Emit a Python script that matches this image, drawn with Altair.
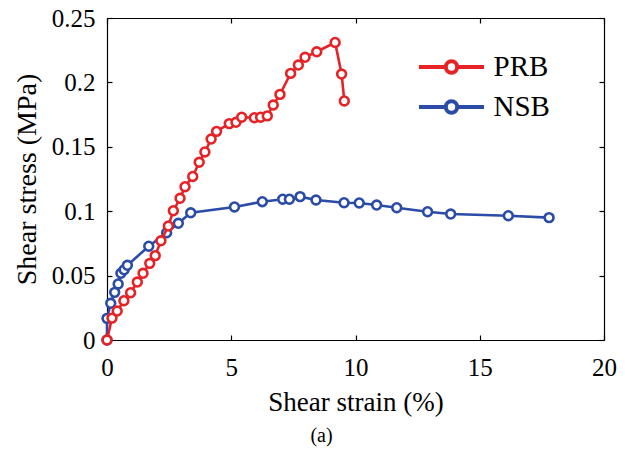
import altair as alt
import pandas as pd

# ---- data ----
prb_strain = [0.0, 0.2, 0.41, 0.68, 0.95, 1.22, 1.45, 1.72, 1.94, 2.17, 2.47, 2.67, 2.94,
              3.14, 3.45, 3.71, 3.94, 4.19, 4.41, 4.92, 5.19, 5.42, 5.93, 6.18, 6.45,
              6.69, 6.96, 7.39, 7.70, 7.97, 8.44, 9.18, 9.44, 9.55]
prb_stress = [0.0, 0.017, 0.0225, 0.0305, 0.0367, 0.045, 0.0518, 0.0595, 0.0655, 0.077,
              0.0885, 0.1004, 0.11, 0.119, 0.127, 0.138, 0.146, 0.156, 0.162, 0.168,
              0.169, 0.173, 0.1726, 0.173, 0.174, 0.1824, 0.1907, 0.207, 0.2135, 0.2195,
              0.2238, 0.231, 0.2065, 0.1856]

nsb_strain = [0.0, 0.0, 0.15, 0.31, 0.45, 0.56, 0.69, 0.82, 1.68, 2.4, 2.87, 3.37, 5.13,
              6.25, 7.07, 7.34, 7.77, 8.41, 9.54, 10.15, 10.85, 11.66, 12.9, 13.83,
              16.15, 17.79]
nsb_stress = [0.0, 0.0168, 0.0285, 0.037, 0.0435, 0.0518, 0.0545, 0.058, 0.0728, 0.0833,
              0.0906, 0.0988, 0.1033, 0.1074, 0.1093, 0.1093, 0.1113, 0.1087, 0.1066,
              0.1064, 0.1048, 0.1027, 0.0996, 0.0978, 0.0965, 0.095]

series_names = ["PRB", "NSB"]
series_colors = ["#e52327", "#2a4ba6"]
x_ticks = [0, 5, 10, 15, 20]
y_ticks = [0, 0.05, 0.1, 0.15, 0.2, 0.25]

W, H = 497, 322
FONT = "'Liberation Serif', 'Times New Roman', Times, serif"

df_prb = pd.DataFrame({"strain": prb_strain, "stress": prb_stress,
                       "series": "PRB", "idx": range(len(prb_strain))})
df_nsb = pd.DataFrame({"strain": nsb_strain, "stress": nsb_stress,
                       "series": "NSB", "idx": range(len(nsb_strain))})

xs = alt.Scale(domain=[0, 20], nice=False, zero=False)
ys = alt.Scale(domain=[0, 0.25], nice=False)

R = 0.38
LEG_PATH = (f"M-2.17,0L-{R},0M{R},0A{R},{R},0,1,1,-{R},0A{R},{R},0,1,1,{R},0"
            f"M{R},0L2.17,0")
legend = alt.Legend(orient="none", legendX=327.5, legendY=32, title=None,
                    symbolType=LEG_PATH, symbolSize=900, symbolStrokeWidth=4,
                    symbolOpacity=1, labelFont=FONT, labelFontSize=29,
                    labelColor="black", labelOffset=25, rowPadding=8, padding=0)
color = alt.Color("series:N", scale=alt.Scale(domain=series_names, range=series_colors),
                  legend=legend)

common = dict(domainColor="black", domainWidth=1.2, tickColor="black", tickWidth=1.2,
              grid=False)

ax_x_main = alt.Axis(orient="bottom", values=x_ticks, ticks=False, tickSize=0,
                     labelFont=FONT, labelFontSize=25, labelColor="black", labelPadding=15,
                     labelFlush=False,
                     title="Shear strain (%)", titleFont=FONT, titleFontSize=27,
                     titleFontWeight="normal", titleColor="black", titlePadding=9, **common)
ax_x_in_bottom = alt.Axis(orient="top", offset=-H, values=x_ticks, labels=False,
                          title=None, tickSize=5, domain=False, **common)
ax_x_in_top = alt.Axis(orient="bottom", offset=-H, values=x_ticks, labels=False,
                       title=None, tickSize=5, domain=True, **common)

ax_y_main = alt.Axis(orient="left", values=y_ticks, ticks=False, tickSize=0, format="~g",
                     labelFont=FONT, labelFontSize=25, labelColor="black", labelPadding=12,
                     labelFlush=False,
                     title="Shear stress (MPa)", titleFont=FONT, titleFontSize=28,
                     titleFontWeight="normal", titleColor="black", titlePadding=10, **common)
ax_y_in_left = alt.Axis(orient="right", offset=-W, values=y_ticks, labels=False,
                        title=None, tickSize=5, domain=False, **common)
ax_y_in_right = alt.Axis(orient="left", offset=-W, values=y_ticks, labels=False,
                         title=None, tickSize=5, domain=True, **common)


def line_layer(df, xa, ya):
    return alt.Chart(df).mark_line(strokeWidth=2.6).encode(
        x=alt.X("strain:Q", scale=xs, axis=xa),
        y=alt.Y("stress:Q", scale=ys, axis=ya),
        color=color,
        order=alt.Order("idx:Q"),
    )


def point_layer(df, xa, ya):
    return alt.Chart(df).mark_point(shape="circle", filled=False, fill="white",
                                    strokeWidth=2.6, size=78, opacity=1).encode(
        x=alt.X("strain:Q", scale=xs, axis=xa),
        y=alt.Y("stress:Q", scale=ys, axis=ya),
        color=color,
    )


chart = alt.layer(
    line_layer(df_nsb, ax_x_main, ax_y_main),
    point_layer(df_nsb, ax_x_in_bottom, ax_y_in_left),
    line_layer(df_prb, ax_x_in_top, ax_y_in_right),
    point_layer(df_prb, None, None),
).resolve_axis(x="independent", y="independent").properties(
    width=W, height=H,
    autosize=alt.AutoSizeParams(type="none"),
    padding={"left": 107, "top": 18, "right": 21, "bottom": 116},
    title=alt.TitleParams("(a)", orient="bottom", font=FONT, fontSize=20,
                          fontWeight="normal", color="black", dx=-34, offset=11),
    background="white",
).configure_view(stroke=None)

chart.save("out.html", embed_options={"renderer": "svg", "actions": False})
